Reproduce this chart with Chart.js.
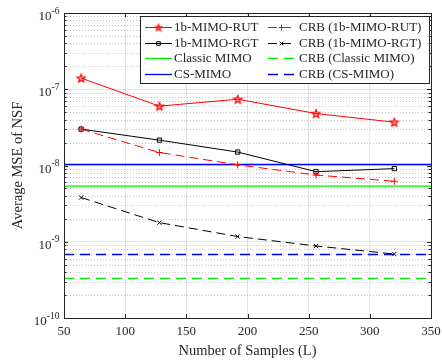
<!DOCTYPE html>
<html>
<head>
<meta charset="utf-8">
<script src="https://cdn.jsdelivr.net/npm/chart.js@4.4.1/dist/chart.umd.min.js"></script>
<style>
  html, body { margin: 0; padding: 0; background: #fff; }
  canvas { display: block; }
</style>
</head>
<body>
<canvas id="mseChart" width="442" height="360"></canvas>
<script>
// Data
const samples = [64, 128, 192, 256, 320];
const rutMse = [1.4e-7, 6.0e-8, 7.4e-8, 4.8e-8, 3.7e-8];
const rgtMse = [3.0e-8, 2.15e-8, 1.5e-8, 8.3e-9, 9.1e-9];
const crbRut = [3.0e-8, 1.48e-8, 1.02e-8, 7.5e-9, 6.2e-9];
const crbRgt = [3.8e-9, 1.78e-9, 1.17e-9, 8.8e-10, 6.9e-10];
const classicMse = 5.35e-9;
const csMse = 1.03e-8;
const crbClassic = 3.3e-10;
const crbCs = 6.8e-10;

const xRange = [50, 350];
const xTicks = [50, 100, 150, 200, 250, 300, 350];
const yExponents = [-10, -9, -8, -7, -6];

const FONT = '"Liberation Serif", "Times New Roman", serif';
const TEXT = '#262626';

// Pentagram marker for the RUT curve
function makeStar(outer, inner) {
    const size = Math.ceil(outer * 2 + 3);
    const c = document.createElement('canvas');
    c.width = size; c.height = size;
    const g = c.getContext('2d');
    g.beginPath();
    for (let i = 0; i < 10; i++) {
        const r = i % 2 === 0 ? outer : inner;
        const a = -Math.PI / 2 + i * Math.PI / 5;
        const px = size / 2 + r * Math.cos(a), py = size / 2 + 0.4 + r * Math.sin(a);
        if (i === 0) g.moveTo(px, py); else g.lineTo(px, py);
    }
    g.closePath();
    g.fillStyle = 'rgba(255,90,90,0.35)';
    g.fill();
    g.strokeStyle = '#ff0000';
    g.lineWidth = 1.2;
    g.stroke();
    return c;
}
const starImg = makeStar(4.3, 1.8);
const starSmall = makeStar(3.4, 1.4);

const pts = (ys) => samples.map((x, i) => ({ x: x, y: ys[i] }));
const flat = (v) => xRange.map(x => ({ x: x, y: v }));

const datasets = [
    { label: '1b-MIMO-RUT', data: pts(rutMse), borderColor: '#ff0000',
      pointStyle: starImg, pointRadius: 4, legendStyle: starSmall },
    { label: 'CRB (1b-MIMO-RUT)', data: pts(crbRut), borderColor: '#ff0000', borderDash: [9, 5],
      pointStyle: 'cross', pointRadius: 3.5, pointBorderColor: '#ff0000' },
    { label: '1b-MIMO-RGT', data: pts(rgtMse), borderColor: '#000000',
      pointStyle: 'rect', pointRadius: 3, pointBorderColor: '#000000' },
    { label: 'CRB (1b-MIMO-RGT)', data: pts(crbRgt), borderColor: '#000000', borderDash: [9, 5],
      pointStyle: 'crossRot', pointRadius: 3, pointBorderColor: '#000000' },
    { label: 'Classic MIMO', data: flat(classicMse), borderColor: '#00ee00', pointRadius: 0, borderWidth: 1.3 },
    { label: 'CRB (Classic MIMO)', data: flat(crbClassic), borderColor: '#00ee00', borderDash: [10, 6], pointRadius: 0, borderWidth: 1.3 },
    { label: 'CS-MIMO', data: flat(csMse), borderColor: '#0000ff', pointRadius: 0, borderWidth: 1.3 },
    { label: 'CRB (CS-MIMO)', data: flat(crbCs), borderColor: '#0000ff', borderDash: [10, 6], pointRadius: 0, borderWidth: 1.3 }
];
datasets.forEach(d => {
    d.fill = false;
    d.tension = 0;
    if (d.borderWidth === undefined) d.borderWidth = 1;
    d.pointBackgroundColor = 'rgba(0,0,0,0)';
    d.pointBorderWidth = 1;
    d.pointHoverRadius = d.pointRadius;
});

// Legend layout (2 columns x 4 rows)
const legendOrder = [[0, 1], [2, 3], [4, 5], [6, 7]];

const matlabAxes = {
    id: 'matlabAxes',
    beforeDatasetsDraw(chart) {
        const { ctx, chartArea: a, scales: { y } } = chart;
        ctx.save();
        ctx.strokeStyle = 'rgba(0,0,0,0.22)';
        ctx.lineWidth = 1;
        ctx.setLineDash([1, 2]);
        for (let e = -10; e < -6; e++) {
            for (let m = 2; m <= 9; m++) {
                const py = Math.round(y.getPixelForValue(m * Math.pow(10, e))) + 0.5;
                ctx.beginPath();
                ctx.moveTo(a.left, py);
                ctx.lineTo(a.right, py);
                ctx.stroke();
            }
        }
        ctx.restore();
    },
    afterDatasetsDraw(chart) {
        const { ctx, chartArea: a, scales: { x, y } } = chart;
        ctx.save();
        ctx.strokeStyle = TEXT;
        ctx.lineWidth = 1;
        ctx.setLineDash([]);

        // ticks, inward on all four sides
        ctx.beginPath();
        xTicks.forEach(v => {
            const px = Math.round(x.getPixelForValue(v)) + 0.5;
            ctx.moveTo(px, a.bottom); ctx.lineTo(px, a.bottom - 4);
            ctx.moveTo(px, a.top); ctx.lineTo(px, a.top + 4);
        });
        for (let e = -10; e <= -6; e++) {
            for (let m = 1; m <= 9; m++) {
                if (e === -6 && m > 1) break;
                const py = Math.round(y.getPixelForValue(m * Math.pow(10, e))) + 0.5;
                const len = m === 1 ? 4 : 2.5;
                ctx.moveTo(a.left, py); ctx.lineTo(a.left + len, py);
                ctx.moveTo(a.right, py); ctx.lineTo(a.right - len, py);
            }
        }
        ctx.stroke();

        // axes box
        ctx.strokeRect(Math.round(a.left) + 0.5, Math.round(a.top) + 0.5,
            Math.round(a.right - a.left), Math.round(a.bottom - a.top));

        // tick labels
        ctx.fillStyle = TEXT;
        ctx.font = '13px ' + FONT;
        ctx.textAlign = 'center';
        ctx.textBaseline = 'alphabetic';
        xTicks.forEach(v => ctx.fillText(String(v), x.getPixelForValue(v), 335));

        ctx.textAlign = 'left';
        yExponents.forEach(e => {
            const py = y.getPixelForValue(Math.pow(10, e));
            const sup = String(e);
            ctx.font = '9.5px ' + FONT;
            const sw = ctx.measureText(sup).width;
            ctx.font = '13px ' + FONT;
            const bw = ctx.measureText('10').width;
            const x0 = 59.5 - sw - bw;
            ctx.fillText('10', x0, py + 7);
            ctx.font = '9.5px ' + FONT;
            ctx.fillText(sup, x0 + bw, py + 0.5);
        });

        // axis titles
        ctx.font = '14.5px ' + FONT;
        ctx.textAlign = 'center';
        ctx.fillText('Number of Samples (L)', (a.left + a.right) / 2, 355);
        ctx.save();
        ctx.translate(22, (a.top + a.bottom) / 2);
        ctx.rotate(-Math.PI / 2);
        ctx.fillText('Average MSE of NSF', 0, 0);
        ctx.restore();

        // legend box
        const bx = 140.5, by = 16.5, bw2 = 289, bh = 67;
        ctx.fillStyle = '#ffffff';
        ctx.fillRect(bx, by, bw2, bh);
        ctx.strokeStyle = TEXT;
        ctx.strokeRect(bx, by, bw2, bh);

        const cols = [{ l0: 145, l1: 172, t: 174 }, { l0: 268, l1: 295, t: 299 }];
        legendOrder.forEach((row, r) => {
            const ry = 27 + r * 15.6;
            row.forEach((di, c) => {
                const d = datasets[di];
                const col = cols[c];
                const ly = Math.round(ry) + 0.5;
                ctx.save();
                ctx.strokeStyle = d.borderColor;
                ctx.lineWidth = d.borderWidth;
                ctx.setLineDash(d.borderDash || []);
                ctx.beginPath();
                ctx.moveTo(col.l0, ly);
                ctx.lineTo(col.l1, ly);
                ctx.stroke();
                ctx.setLineDash([]);
                if (d.pointRadius > 0) {
                    ctx.strokeStyle = d.pointBorderColor || d.borderColor;
                    ctx.fillStyle = 'rgba(0,0,0,0)';
                    ctx.lineWidth = 1;
                    Chart.helpers.drawPoint(ctx, {
                        pointStyle: d.legendStyle || d.pointStyle,
                        radius: d.legendStyle ? 3 : d.pointRadius * 0.85,
                        rotation: 0, borderWidth: 1
                    }, (col.l0 + col.l1) / 2, ly);
                }
                ctx.restore();
                ctx.fillStyle = TEXT;
                ctx.font = '13px ' + FONT;
                ctx.textAlign = 'left';
                ctx.textBaseline = 'middle';
                ctx.fillText(d.label, col.t, ry + 0.5);
            });
        });
        ctx.restore();
    }
};

new Chart(document.getElementById('mseChart'), {
    type: 'line',
    data: { datasets: datasets },
    options: {
        responsive: false,
        animation: false,
        devicePixelRatio: 1,
        layout: { padding: { left: 64, right: 11, top: 13, bottom: 42 } },
        plugins: { legend: { display: false }, tooltip: { enabled: false } },
        scales: {
            x: {
                type: 'linear',
                min: xRange[0], max: xRange[1],
                afterBuildTicks: s => { s.ticks = xTicks.map(v => ({ value: v })); },
                afterFit: s => { s.height = 0; },
                ticks: { display: false },
                grid: { color: 'rgba(0,0,0,0.1)', drawTicks: false },
                border: { display: false }
            },
            y: {
                type: 'logarithmic',
                min: 1e-10, max: 1e-6,
                afterBuildTicks: s => { s.ticks = yExponents.map(e => ({ value: Math.pow(10, e) })); },
                afterFit: s => { s.width = 0; },
                ticks: { display: false },
                grid: { color: 'rgba(0,0,0,0.1)', drawTicks: false },
                border: { display: false }
            }
        }
    },
    plugins: [matlabAxes]
});
</script>
</body>
</html>
